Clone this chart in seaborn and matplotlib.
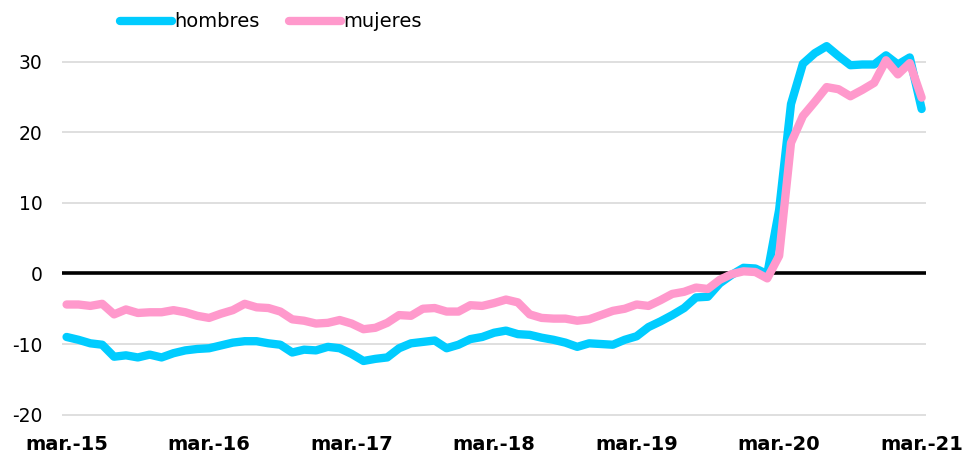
import pandas as pd
import matplotlib.pyplot as plt
import seaborn as sns

# Monthly series, mar-15 .. mar-21
meses = pd.date_range("2015-03-01", "2021-03-01", freq="MS")

hombres = [
    -9.0, -9.4, -9.9, -10.1, -11.8, -11.6, -11.9, -11.5, -11.9, -11.3,
    -10.9, -10.7, -10.6, -10.2, -9.8, -9.6, -9.6, -9.9, -10.1, -11.2,
    -10.8, -10.9, -10.4, -10.6, -11.4, -12.4, -12.1, -11.9, -10.6, -9.9,
    -9.7, -9.5, -10.6, -10.1, -9.3, -9.0, -8.4, -8.1, -8.6, -8.7,
    -9.1, -9.4, -9.8, -10.4, -9.9, -10.0, -10.1, -9.4, -8.9, -7.6,
    -6.8, -5.9, -4.9, -3.4, -3.3, -1.4, -0.2, 0.8, 0.7, -0.1,
    9.0, 24.0, 29.7, 31.2, 32.2, 30.8, 29.5, 29.6, 29.6, 30.9,
    29.6, 30.6, 23.3,
]

mujeres = [
    -4.4, -4.4, -4.6, -4.3, -5.8, -5.1, -5.6, -5.5, -5.5, -5.2,
    -5.5, -6.0, -6.3, -5.7, -5.2, -4.3, -4.8, -4.9, -5.4, -6.5,
    -6.7, -7.1, -7.0, -6.6, -7.1, -7.9, -7.7, -7.0, -5.9, -6.0,
    -5.0, -4.9, -5.4, -5.4, -4.5, -4.6, -4.2, -3.7, -4.1, -5.8,
    -6.3, -6.4, -6.4, -6.7, -6.5, -5.9, -5.3, -5.0, -4.4, -4.6,
    -3.8, -2.9, -2.6, -2.0, -2.2, -0.9, -0.1, 0.3, 0.2, -0.7,
    2.5, 18.5, 22.3, 24.3, 26.4, 26.1, 25.1, 26.0, 27.0, 30.2,
    28.2, 29.8, 24.9,
]

etiquetas = ["mar.-15", "mar.-16", "mar.-17", "mar.-18", "mar.-19", "mar.-20", "mar.-21"]
colores = {"hombres": "#00CCFF", "mujeres": "#FF99CC"}

# Long format for seaborn
idx = list(range(len(meses)))
df = pd.DataFrame({
    "mes": idx * 2,
    "valor": hombres + mujeres,
    "serie": ["hombres"] * len(idx) + ["mujeres"] * len(idx),
})

sns.set_style("white")
plt.rcParams["font.family"] = ["DejaVu Sans"]
plt.rcParams["axes.unicode_minus"] = False
plt.rcParams["text.color"] = "black"
plt.rcParams["xtick.color"] = "black"
plt.rcParams["ytick.color"] = "black"

fig = plt.figure(figsize=(9.66, 4.55), dpi=100)
ax = fig.add_axes([0.064, 0.081, 0.895, 0.861])

# Gridlines behind
for v in [-20, -10, 10, 20, 30]:
    ax.axhline(v, color="#d9d9d9", lw=1.2, zorder=0)

sns.lineplot(data=df, x="mes", y="valor", hue="serie", palette=colores,
             linewidth=6, ax=ax, legend=False, zorder=3)
for ln in ax.get_lines()[-2:]:
    ln.set_solid_capstyle("round")
    ln.set_solid_joinstyle("round")

ax.axhline(0, color="black", lw=2.6, zorder=2)

ax.set_xlim(-0.4, 72.4)
ax.set_ylim(-20.5, 35)
ax.set_yticks([-20, -10, 0, 10, 20, 30])
ax.set_xticks(range(0, 73, 12))
ax.set_xticklabels(etiquetas, fontweight="bold", fontsize=14)
ax.tick_params(axis="y", labelsize=13.5, length=0, pad=14)
ax.tick_params(axis="x", length=0, pad=12)
ax.set_xlabel("")
ax.set_ylabel("")
for s in ax.spines.values():
    s.set_visible(False)

# Legend
handles = [plt.Line2D([], [], color=colores[k], lw=6, solid_capstyle="round") for k in colores]
fig.legend(handles, list(colores), loc="center", bbox_to_anchor=(0.28, 0.952),
           ncol=2, frameon=False, fontsize=14, handlelength=2.7,
           handletextpad=0.1, columnspacing=1.5)

fig.savefig("out.png", dpi=100)
